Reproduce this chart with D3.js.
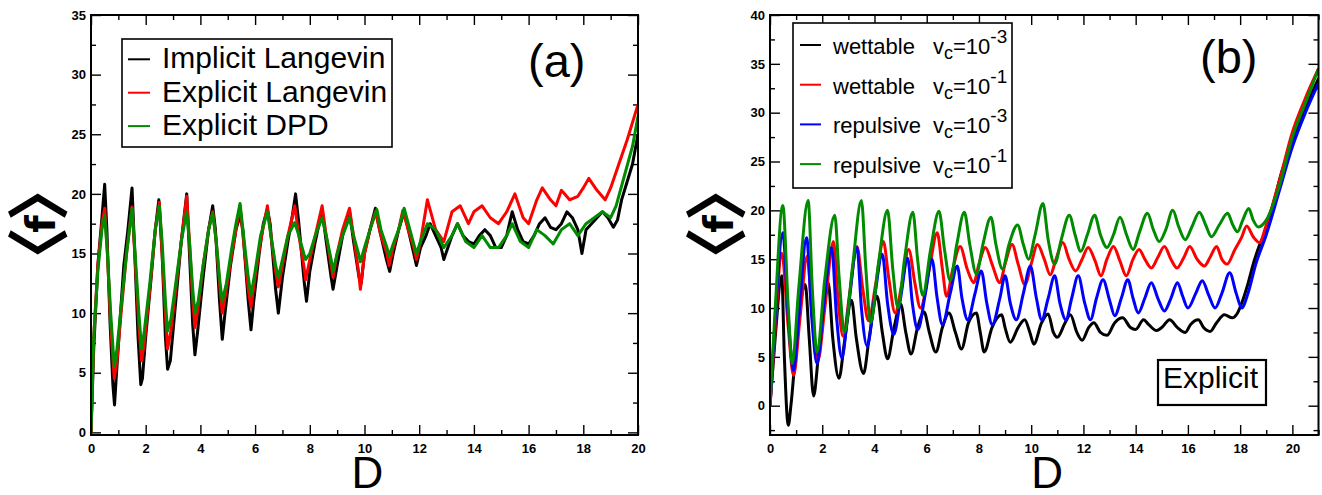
<!DOCTYPE html>
<html><head><meta charset="utf-8">
<script src="https://cdn.jsdelivr.net/npm/d3@7"></script>
<style>body{margin:0;background:#fff}svg{display:block}</style>
</head><body>
<svg id="chart" width="1322" height="495"></svg>
<script>
// ---------- Panel (a) data: [D, <f>] ----------
const implicitLangevin = [[0,0],[0.1,7],[0.25,14],[0.4,18],[0.5,20.8],[0.58,17],[0.7,9],[0.8,4],[0.86,2.3],[0.92,4.5],[1.05,9],[1.2,14],[1.35,17],[1.5,20.5],[1.6,15],[1.72,8],[1.82,4],[1.88,4.5],[2.0,8],[2.2,13],[2.35,17],[2.48,19.5],[2.6,15],[2.72,8],[2.8,5.3],[2.9,6],[3.1,11],[3.3,16],[3.5,20],[3.6,15],[3.72,9],[3.8,6.5],[3.9,8.5],[4.1,13],[4.3,17],[4.45,19],[4.55,17],[4.7,11],[4.8,7.8],[4.9,10],[5.1,14],[5.3,17],[5.45,18.2],[5.55,17],[5.75,11],[5.85,8.6],[5.95,11],[6.15,15],[6.3,17.5],[6.45,18.7],[6.55,17.5],[6.75,12],[6.85,10],[7.0,13],[7.2,16],[7.35,18],[7.48,20],[7.6,17.5],[7.8,12.5],[7.88,11],[8.0,13.5],[8.2,16],[8.45,18.7],[8.6,16],[8.78,13],[8.85,12],[9.0,14],[9.2,16.5],[9.45,18.6],[9.6,16],[9.8,13],[9.88,12.5],[10.0,15],[10.2,17],[10.4,18.8],[10.55,17],[10.8,14.5],[10.92,13.5],[11.05,15],[11.25,17],[11.45,18.5],[11.6,17],[11.8,15],[11.9,14],[12.05,15.5],[12.25,16.5],[12.4,17.5],[12.6,16.5],[12.8,15.5],[12.9,14.5],[13.05,15.5],[13.2,16.5],[13.4,17.5],[13.6,16.5],[13.8,16],[14.0,15.8],[14.2,16.5],[14.4,17],[14.6,16.5],[14.8,15.5],[15.0,15.5],[15.2,16.5],[15.4,18.5],[15.6,17],[15.8,16],[16.0,15.8],[16.2,16.5],[16.4,17.5],[16.6,18],[16.8,17.2],[17.0,17],[17.2,17.5],[17.4,18.5],[17.6,18],[17.8,17],[17.95,15],[18.1,17],[18.3,17.5],[18.5,18],[18.7,18.5],[18.9,18],[19.1,17.2],[19.25,17.8],[19.4,19.5],[19.6,21],[19.8,22.5],[20,25]];
const explicitLangevin = [[0,0],[0.1,8],[0.25,14],[0.4,17.5],[0.5,18.8],[0.6,15],[0.72,9],[0.85,4.5],[0.95,6],[1.1,10],[1.3,15],[1.5,18.9],[1.6,15],[1.75,9],[1.85,6],[1.95,7.5],[2.15,12],[2.35,17],[2.5,19.3],[2.6,15],[2.72,10],[2.8,7],[2.92,8.5],[3.1,12],[3.3,16],[3.5,19.8],[3.6,16],[3.72,11],[3.8,8.8],[3.92,10.5],[4.1,14],[4.3,17],[4.45,18.5],[4.58,16],[4.72,12],[4.8,10],[4.95,12],[5.15,15],[5.3,17],[5.45,19],[5.58,16],[5.75,12],[5.85,10.5],[6.0,13],[6.2,16],[6.45,19],[6.58,16.5],[6.75,13.5],[6.85,12.2],[7.0,14],[7.2,16.5],[7.45,19],[7.6,16.5],[7.78,14],[7.85,12.8],[8.0,14.5],[8.2,16.5],[8.45,19],[8.6,16.5],[8.78,14],[8.85,13],[9.0,15],[9.2,17],[9.45,18.8],[9.6,16.5],[9.78,13.5],[9.85,12],[10.0,15],[10.2,17],[10.4,18.5],[10.6,16.5],[10.82,15],[10.9,14],[11.05,15.5],[11.25,17],[11.4,18.6],[11.6,17],[11.8,15.5],[11.9,14.5],[12.05,16],[12.3,19.5],[12.6,17],[12.9,16],[13.2,18.5],[13.5,19],[13.8,17.5],[14.0,18.5],[14.3,19],[14.6,18],[14.9,17.5],[15.2,18.5],[15.5,20],[15.8,18],[16.0,17.5],[16.3,19.5],[16.5,20.5],[16.8,19.5],[17.0,19],[17.2,20.3],[17.5,19.5],[17.8,19.8],[18.0,20.5],[18.2,21.3],[18.5,20.3],[18.8,19.5],[19.0,20.5],[19.3,22.5],[19.6,24.5],[19.8,26],[20,27.5]];
const explicitDPD = [[0,0],[0.1,8],[0.25,13.5],[0.4,17],[0.5,18.2],[0.6,15],[0.72,10],[0.85,5.5],[0.95,7],[1.1,10.5],[1.3,15],[1.5,18.8],[1.6,15.5],[1.75,10],[1.85,7],[1.95,8.5],[2.15,12.5],[2.35,17],[2.5,19],[2.6,16],[2.72,11],[2.8,8.5],[2.92,9.5],[3.1,12.5],[3.3,16],[3.5,18.5],[3.6,16],[3.72,12],[3.8,10],[3.92,11],[4.1,14],[4.3,17],[4.45,18.4],[4.58,16],[4.72,12.5],[4.8,11],[4.95,12.5],[5.15,15.5],[5.3,17.5],[5.45,19.2],[5.58,16.5],[5.75,13],[5.85,11.5],[6.0,13.5],[6.2,16.5],[6.45,18.5],[6.58,16.5],[6.75,14],[6.85,13],[7.0,14.5],[7.2,16.5],[7.45,17.6],[7.6,16.5],[7.78,15],[7.85,14.5],[8.0,15],[8.2,16.5],[8.45,18],[8.6,16.5],[8.78,14.5],[8.85,13.5],[9.0,15],[9.2,16.5],[9.45,18],[9.6,16.5],[9.78,15],[9.85,14.3],[10.0,15.5],[10.2,17],[10.45,18.7],[10.6,17],[10.82,15.5],[10.9,14.8],[11.05,15.8],[11.25,17],[11.45,18.8],[11.6,17.5],[11.8,15.8],[11.9,15],[12.05,16],[12.3,17.5],[12.6,17],[12.9,15.5],[13.2,16.5],[13.4,17.5],[13.7,16],[14.0,15.5],[14.3,16.5],[14.6,15.5],[14.9,15.5],[15.2,16.5],[15.4,17.5],[15.7,16],[16.0,15.5],[16.3,17],[16.6,16.5],[16.9,15.8],[17.2,17],[17.5,17.5],[17.8,16.5],[18.1,17.5],[18.4,18],[18.7,18.5],[19.0,18],[19.2,19],[19.5,21.5],[19.8,24],[20,26.5]];

// ---------- Panel (b) data ----------
const wettable3 = [[0,0],[0.2,7],[0.45,13.3],[0.55,5],[0.7,-2],[0.8,0],[1.0,6],[1.35,12.4],[1.5,7],[1.67,1],[1.85,5],[2.23,12.6],[2.4,7],[2.64,2.8],[2.85,6.5],[3.12,10.8],[3.3,7],[3.58,3.3],[3.8,7],[4.1,11.2],[4.3,7.5],[4.5,4.8],[4.75,8],[5.0,10.4],[5.2,7.5],[5.4,5.3],[5.65,8],[5.9,9.6],[6.1,7.5],[6.35,5.5],[6.6,8],[6.85,9.5],[7.1,7.5],[7.33,5.8],[7.6,8.5],[7.9,9.5],[8.05,7.5],[8.2,5.5],[8.5,8],[8.87,9.3],[9.0,8],[9.2,6.5],[9.5,8],[9.75,8.8],[9.95,7.5],[10.1,6.3],[10.4,8.5],[10.65,9.4],[10.85,7.5],[11.0,7],[11.3,8.5],[11.5,9.3],[11.75,7.5],[11.95,6.7],[12.2,8],[12.4,8.5],[12.65,7.5],[12.9,7.2],[13.2,8.5],[13.5,9],[13.8,8],[14.0,7.8],[14.3,8.8],[14.5,8.3],[14.8,7.7],[15.0,8],[15.3,8.8],[15.6,8],[15.9,7.5],[16.1,8.3],[16.4,8.8],[16.6,8],[16.85,7.6],[17.1,8.5],[17.4,9.3],[17.7,9],[17.9,9.5],[18.1,10.8],[18.3,12.5],[18.5,14.5],[18.75,16.5],[19.0,18],[19.3,21],[19.6,24],[20.0,27],[20.5,30.5],[21,33.5]];
const wettable1 = [[0,0],[0.2,8],[0.45,15.6],[0.7,8],[0.9,3.1],[1.15,9],[1.42,15.3],[1.62,9],[1.83,4.6],[2.1,10],[2.43,16.8],[2.6,11],[2.8,7.1],[3.05,11.5],[3.33,16.3],[3.55,12],[3.77,8.7],[4.05,12.5],[4.34,16.8],[4.55,13],[4.79,9.5],[5.05,12.5],[5.31,16],[5.55,12.5],[5.76,10],[6.1,14],[6.4,17.7],[6.6,14],[6.76,11.2],[7.0,14],[7.28,16.3],[7.55,14],[7.8,12.6],[8.0,14.5],[8.25,16.2],[8.5,14.5],[8.8,12.6],[9.0,14.5],[9.27,16.5],[9.5,14.5],[9.76,12.4],[10.0,14.5],[10.24,16.5],[10.5,15],[10.73,13.4],[10.95,15],[11.21,16.7],[11.45,15],[11.7,13.8],[11.95,15],[12.18,16.2],[12.45,14.8],[12.67,13.3],[12.9,15],[13.15,16.3],[13.4,14.8],[13.64,13.3],[13.9,15],[14.13,16],[14.35,15],[14.6,14.1],[14.85,15.2],[15.1,16.3],[15.35,15],[15.58,14.1],[15.85,15.2],[16.07,16.3],[16.35,15],[16.63,14.3],[16.85,15.2],[17.1,16.3],[17.3,15],[17.5,14.5],[17.8,16],[18.05,17.2],[18.25,18.4],[18.5,17.3],[18.74,16.7],[19.0,18.5],[19.5,23],[20.0,28],[20.5,31.5],[21,34.5]];
const repulsive3 = [[0,0],[0.2,9],[0.49,17.7],[0.7,9],[0.9,3.6],[1.1,9],[1.4,17.2],[1.6,9],[1.8,4.3],[2.05,10],[2.36,16.2],[2.55,9],[2.75,4.9],[3.0,10],[3.33,16.2],[3.5,10],[3.72,6.1],[4.0,11],[4.3,15.5],[4.5,10.5],[4.74,7.3],[5.0,11],[5.27,15.1],[5.45,10.5],[5.66,7.8],[5.95,11.5],[6.2,15],[6.4,11],[6.6,8.3],[6.9,11.5],[7.17,14.3],[7.35,11],[7.57,8.8],[7.85,11.5],[8.09,13.8],[8.3,10.5],[8.51,8.3],[8.8,11],[9.0,13.3],[9.2,10.5],[9.43,8.8],[9.7,11.5],[9.97,14.3],[10.2,11],[10.4,8.8],[10.65,11],[10.9,13.3],[11.1,10.5],[11.33,8.8],[11.55,11],[11.8,13.3],[12.05,10.5],[12.27,8.8],[12.5,11],[12.75,12.9],[13.0,10.8],[13.2,9.2],[13.45,11],[13.7,12.9],[13.9,11],[14.1,9.5],[14.35,11],[14.6,12.6],[14.85,11],[15.1,9.7],[15.35,11],[15.6,12.6],[15.8,11.2],[16.0,10],[16.3,11.5],[16.55,12.8],[16.8,11.3],[17.04,10],[17.3,11.5],[17.6,13.6],[17.85,11.5],[18.06,10],[18.3,11.5],[18.6,14.5],[19.0,17.5],[19.5,22],[20.0,26.5],[20.5,30],[21,33]];
const repulsive1 = [[0,0],[0.2,10],[0.49,20.5],[0.7,10],[0.85,4.3],[1.1,12],[1.46,21],[1.62,12],[1.8,5.5],[2.1,13],[2.48,19.5],[2.65,13],[2.85,7.5],[3.15,14],[3.5,21],[3.67,14],[3.85,8.5],[4.15,14.5],[4.5,20],[4.7,14],[4.9,10],[5.15,15],[5.47,19.8],[5.65,15],[5.85,11.3],[6.15,16],[6.47,19.9],[6.68,16],[6.9,12.8],[7.15,16.5],[7.44,19.8],[7.65,16.5],[7.9,13.5],[8.15,16.5],[8.46,19.3],[8.65,16.5],[8.9,14],[9.15,16.5],[9.48,18.5],[9.7,16.5],[9.9,15],[10.15,17.5],[10.45,20.7],[10.65,17],[10.9,14.5],[11.15,17],[11.46,19.5],[11.68,17.5],[11.9,15.8],[12.15,17.5],[12.43,19.5],[12.65,17.5],[12.9,16.2],[13.15,17.5],[13.4,19.3],[13.65,17.5],[13.9,16],[14.15,17.8],[14.45,19.7],[14.68,18],[14.9,16.8],[15.15,18],[15.42,20],[15.65,18.3],[15.9,17],[16.15,18.3],[16.44,19.8],[16.68,18.5],[16.9,17.3],[17.2,18.5],[17.52,19.7],[17.72,18.5],[17.9,17.8],[18.1,19],[18.33,20.2],[18.5,19],[18.7,18.3],[19.0,19],[19.5,22.5],[20.0,27.5],[20.5,31],[21,34.5]];

// ---------- labels / ticks ----------
const legendLabelsA = ["Implicit Langevin", "Explicit Langevin", "Explicit DPD"];
const legendSurfacesB = ["wettable", "wettable", "repulsive", "repulsive"];
const legendExponentsB = ["-3", "-1", "-3", "-1"];
const xTicksA = [0,2,4,6,8,10,12,14,16,18,20];
const yTicksA = [0,5,10,15,20,25,30,35];
const xTicksB = [0,2,4,6,8,10,12,14,16,18,20];
const yTicksB = [0,5,10,15,20,25,30,35,40];
const colorsA = ["#000000", "#ff0000", "#008b00"];
const colorsB = ["#000000", "#ff0000", "#0000ff", "#008b00"];

const svg = d3.select("#chart");
const tickFont = "bold 13px 'Liberation Sans', Arial, sans-serif";

function panel(cfg) {
  const x = d3.scaleLinear().domain(cfg.xDomain).range(cfg.xRange);
  const y = d3.scaleLinear().domain(cfg.yDomain).range(cfg.yRange);
  const g = svg.append("g");
  const [x0, x1] = cfg.xRange, [y0, y1] = [cfg.yRange[1], cfg.yRange[0]];
  const clipId = "clip" + cfg.id;
  g.append("clipPath").attr("id", clipId).append("rect")
    .attr("x", x0).attr("y", y0).attr("width", x1 - x0).attr("height", y1 - y0);

  const xMinor = d3.range(Math.ceil(cfg.xDomain[0]), cfg.xDomain[1] + 0.001, 1).filter(v => !cfg.xTicks.includes(v));
  const yMinor = d3.range(Math.ceil(cfg.yDomain[0] / 2.5) * 2.5, cfg.yDomain[1] + 0.001, 2.5).filter(v => !cfg.yTicks.includes(v));

  function styleAxis(sel) {
    sel.select(".domain").remove();
    sel.selectAll("line").attr("stroke", "#000").attr("stroke-width", 1.4);
    sel.selectAll("text").style("font", tickFont).attr("fill", "#000");
  }
  g.append("g").attr("transform", `translate(0,${y1})`)
    .call(d3.axisBottom(x).tickValues(cfg.xTicks).tickSize(-10).tickPadding(9).tickFormat(d3.format("d"))).call(styleAxis);
  g.append("g").attr("transform", `translate(0,${y1})`)
    .call(d3.axisBottom(x).tickValues(xMinor).tickSize(-5).tickFormat("")).call(styleAxis);
  g.append("g").attr("transform", `translate(0,${y0})`)
    .call(d3.axisTop(x).tickValues(cfg.xTicks).tickSize(-10).tickFormat("")).call(styleAxis);
  g.append("g").attr("transform", `translate(0,${y0})`)
    .call(d3.axisTop(x).tickValues(xMinor).tickSize(-5).tickFormat("")).call(styleAxis);
  g.append("g").attr("transform", `translate(${x0},0)`)
    .call(d3.axisLeft(y).tickValues(cfg.yTicks).tickSize(-10).tickPadding(5).tickFormat(d3.format("d"))).call(styleAxis);
  g.append("g").attr("transform", `translate(${x0},0)`)
    .call(d3.axisLeft(y).tickValues(yMinor).tickSize(-5).tickFormat("")).call(styleAxis);
  g.append("g").attr("transform", `translate(${x1},0)`)
    .call(d3.axisRight(y).tickValues(cfg.yTicks).tickSize(-10).tickFormat("")).call(styleAxis);
  g.append("g").attr("transform", `translate(${x1},0)`)
    .call(d3.axisRight(y).tickValues(yMinor).tickSize(-5).tickFormat("")).call(styleAxis);

  const line = d3.line().x(d => x(d[0])).y(d => y(d[1])).curve(cfg.curve);
  const lines = g.append("g").attr("clip-path", `url(#${clipId})`);
  cfg.series.forEach((s, i) => {
    lines.append("path").datum(s).attr("d", line)
      .attr("fill", "none").attr("stroke", cfg.colors[i])
      .attr("stroke-width", 3).attr("stroke-linejoin", "round");
  });

  g.append("rect").attr("x", x0).attr("y", y0).attr("width", x1 - x0).attr("height", y1 - y0)
    .attr("fill", "none").attr("stroke", "#000").attr("stroke-width", 2);

  // axis titles
  g.append("text").attr("x", (x0 + x1) / 2 + 3).attr("y", 488).attr("text-anchor", "middle")
    .style("font", "44px 'Liberation Sans', Arial, sans-serif").text("D");
  const yt = g.append("text").attr("transform", `translate(${cfg.yTitleX},224) rotate(-90)`)
    .attr("text-anchor", "middle");
  yt.append("tspan").attr("dy", 6).style("font", "bold 63px 'Noto Sans CJK JP', sans-serif").text("\u3008");
  yt.append("tspan").attr("dy", -6).attr("dx", -6).style("font", "bold 40px 'DejaVu Sans', sans-serif").text("f");
  yt.append("tspan").attr("dy", 6).attr("dx", -6).style("font", "bold 63px 'Noto Sans CJK JP', sans-serif").text("\u3009");
  return {x, y, g};
}

// ---------- Panel (a) ----------
const A = panel({id: "a", xDomain: [0, 20], yDomain: [-0.22, 35], xRange: [91, 638], yRange: [435, 15],
  xTicks: xTicksA, yTicks: yTicksA, series: [implicitLangevin, explicitLangevin, explicitDPD], colors: colorsA,
  yTitleX: 55, curve: d3.curveLinear});
const legA = A.g.append("g");
legA.append("rect").attr("x", 122).attr("y", 39).attr("width", 270).attr("height", 108)
  .attr("fill", "#fff").attr("stroke", "#000").attr("stroke-width", 1.6);
legendLabelsA.forEach((t, i) => {
  const cy = 59.3 + i * 33.4;
  legA.append("line").attr("x1", 128).attr("x2", 150).attr("y1", cy).attr("y2", cy)
    .attr("stroke", colorsA[i]).attr("stroke-width", 2);
  legA.append("text").attr("x", 162).attr("y", cy + 9).style("font", "30px 'Liberation Sans', Arial, sans-serif").text(t);
});
A.g.append("text").attr("x", 528).attr("y", 77).style("font", "47px 'Liberation Sans', Arial, sans-serif").text("(a)");

// ---------- Panel (b) ----------
const B = panel({id: "b", xDomain: [0, 21], yDomain: [-3, 40], xRange: [770, 1318.5], yRange: [435, 15],
  xTicks: xTicksB, yTicks: yTicksB, series: [wettable3, wettable1, repulsive3, repulsive1], colors: colorsB,
  yTitleX: 733, curve: d3.curveMonotoneX});
const legB = B.g.append("g");
legB.append("rect").attr("x", 793).attr("y", 23).attr("width", 219).attr("height", 165)
  .attr("fill", "#fff").attr("stroke", "#000").attr("stroke-width", 1.6);
legendSurfacesB.forEach((t, i) => {
  const cy = 45 + i * 39.7;
  legB.append("line").attr("x1", 800).attr("x2", 821).attr("y1", cy).attr("y2", cy)
    .attr("stroke", colorsB[i]).attr("stroke-width", 2);
  const f = "22px 'Liberation Sans', Arial, sans-serif";
  legB.append("text").attr("x", 833).attr("y", cy + 9).style("font", f).text(t);
  const vt = legB.append("text").attr("x", 933).attr("y", cy + 9).style("font", f);
  vt.append("tspan").text("v");
  vt.append("tspan").attr("dy", 5).style("font-size", "18px").text("c");
  vt.append("tspan").attr("dy", -5).text("=10");
  vt.append("tspan").attr("dy", -11).style("font-size", "19px").text(legendExponentsB[i]);
});
B.g.append("rect").attr("x", 1158).attr("y", 360).attr("width", 108).attr("height", 45)
  .attr("fill", "#fff").attr("stroke", "#000").attr("stroke-width", 2.2);
B.g.append("text").attr("x", 1163).attr("y", 388).style("font", "30px 'Liberation Sans', Arial, sans-serif").text("Explicit");
B.g.append("text").attr("x", 1200).attr("y", 73).style("font", "47px 'Liberation Sans', Arial, sans-serif").text("(b)");
</script>
</body></html>
